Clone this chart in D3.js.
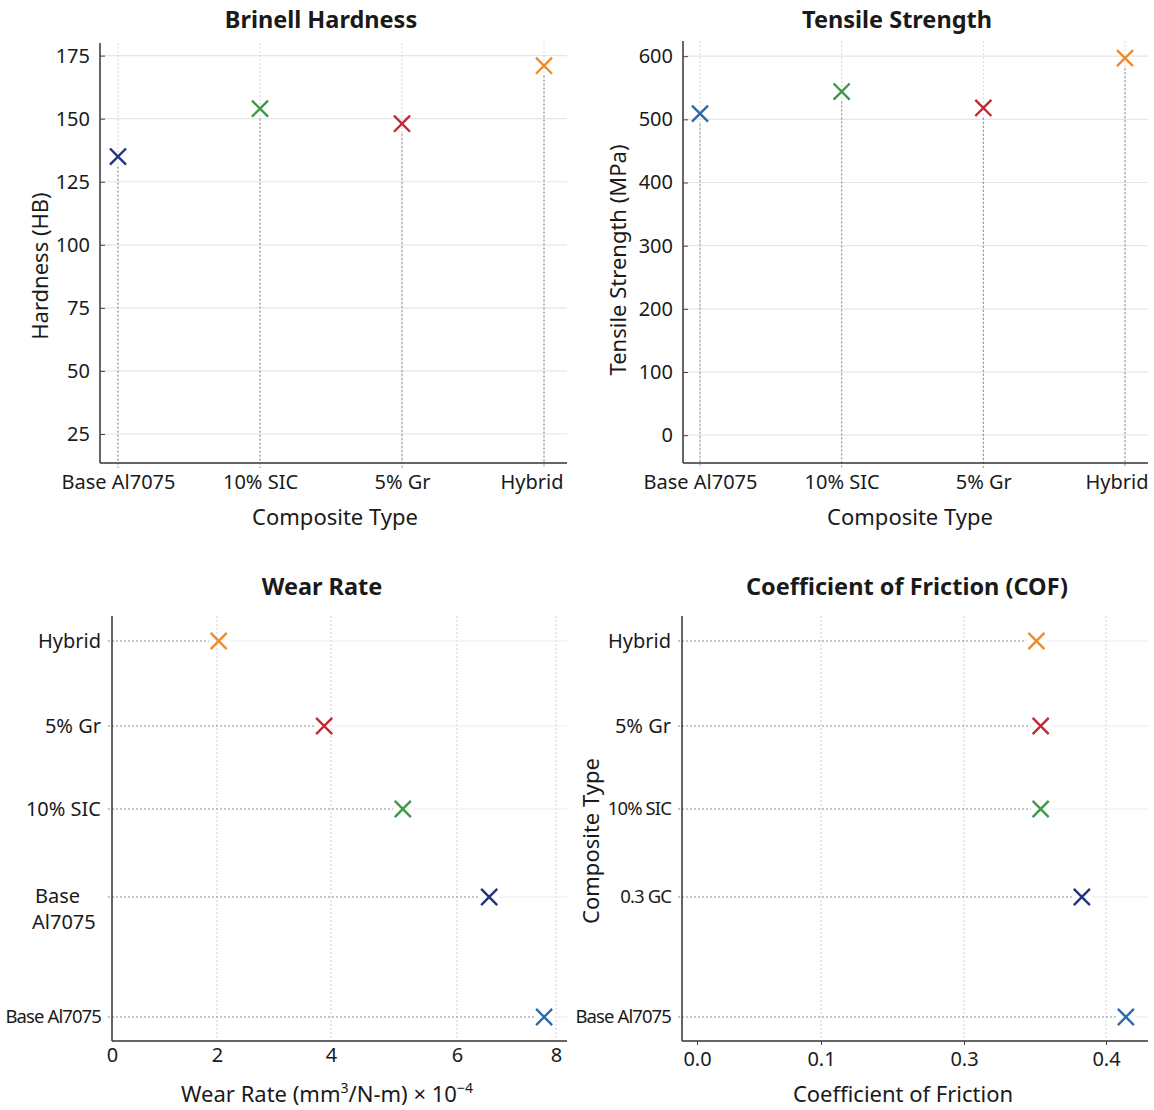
<!DOCTYPE html>
<html>
  <head>
    <meta charset="utf-8" />
    <title>Composite properties</title>
    <style>
      body { margin: 0; background: #fff; }
      text { font-family: "Noto Sans", "DejaVu Sans", sans-serif; fill: #1a1a1a; }
      .title { font-size: 23.5px; font-weight: bold; }
      .tick-label { font-size: 20px; }
      .axis-title { font-size: 22px; }
    </style>
  </head>
  <body>
    <svg id="chart" width="1154" height="1110"></svg>

    <script src="https://d3js.org/d3.v7.min.js"></script>
    <script>
      // ---- data ----
      const compositeTypes = ["Base Al7075", "10% SIC", "5% Gr", "Hybrid"];
      const hardness = [135, 154, 148, 171];
      const tensile = [509, 544, 518, 597];
      const hardnessTicks = [25, 50, 75, 100, 125, 150, 175];
      const tensileTicks = [0, 100, 200, 300, 400, 500, 600];

      const wearRows = ["Hybrid", "5% Gr", "10% SIC", "Base Al7075", "Base Al7075"];
      const wearRate = [2.03, 3.88, 5.14, 6.65, 7.76];
      const wearTicks = [0, 2, 4, 6, 8];

      const cofRows = ["Hybrid", "5% Gr", "10% SIC", "0.3 GC", "Base Al7075"];
      const cof = [0.351, 0.354, 0.354, 0.383, 0.414];
      const cofTicks = [0.0, 0.1, 0.3, 0.4];

      // ---- colours ----
      const navy = "#1f3480", green = "#3a9a46", red = "#c02a35",
            orange = "#f08a2c", steel = "#2f6aa8";
      const colsTop = [navy, green, red, orange];
      const colsTensile = [steel, green, red, orange];
      const colsRows = [orange, red, green, navy, steel];

      // uneven axis spacing of the original, used as scale range stops
      const rowY = [641, 726, 809, 897, 1017];
      const wearStops = [112, 217, 331, 457, 556];
      const cofStops = [697, 821, 964, 1106];

      const svg = d3.select("#chart");
      const marker = d3.symbol(d3.symbolX, 170);

      function frame(g, p) {
        g.append("line").attr("x1", p.left).attr("x2", p.left)
          .attr("y1", p.top).attr("y2", p.bottom)
          .attr("stroke", "#333").attr("stroke-width", 1.5);
        g.append("line").attr("x1", p.left).attr("x2", p.right)
          .attr("y1", p.bottom).attr("y2", p.bottom)
          .attr("stroke", "#333").attr("stroke-width", 1.5);
        g.append("text").attr("class", "title")
          .attr("x", p.titleX).attr("y", p.titleY)
          .attr("text-anchor", "middle").text(p.title);
      }

      function styleAxis(a) {
        a.attr("font-size", null).attr("font-family", null);
        a.select(".domain").remove();
        a.selectAll(".tick line").attr("stroke", "#444");
        a.selectAll(".tick text").attr("class", "tick-label");
      }

      // vertical category panels (top row)
      function categoryPanel(p) {
        const g = svg.append("g");
        const x = d3.scalePoint().domain(p.cats).range(p.xRange);
        const y = d3.scaleLinear().domain(p.yDomain).range([p.bottom, p.top]);

        g.append("g").selectAll("line").data(p.ticks).join("line")
          .attr("x1", p.left).attr("x2", p.right)
          .attr("y1", d => y(d)).attr("y2", d => y(d))
          .attr("stroke", "#e6e6e6").attr("stroke-width", 1.2);

        g.append("g").selectAll("line").data(p.cats).join("line")
          .attr("x1", d => x(d)).attr("x2", d => x(d))
          .attr("y1", p.top).attr("y2", p.bottom)
          .attr("stroke", "#d8d8d8").attr("stroke-dasharray", "2,2");

        g.append("g").selectAll("line").data(p.values).join("line")
          .attr("x1", (d, i) => x(p.cats[i])).attr("x2", (d, i) => x(p.cats[i]))
          .attr("y1", d => y(d) + 10).attr("y2", p.bottom + 5)
          .attr("stroke", "#8c8c8c").attr("stroke-dasharray", "2,2");

        frame(g, p);

        const ya = g.append("g").attr("transform", `translate(${p.left},0)`)
          .call(d3.axisLeft(y).tickValues(p.ticks).tickSize(-5).tickPadding(10));
        styleAxis(ya);

        const xa = g.append("g").attr("transform", `translate(0,${p.bottom})`)
          .call(d3.axisBottom(x).tickSize(0).tickPadding(12));
        styleAxis(xa);
        xa.selectAll(".tick text")
          .filter(d => d === p.cats[p.cats.length - 1])
          .attr("text-anchor", "end").attr("x", p.lastShift);

        g.append("text").attr("class", "axis-title")
          .attr("x", p.xLabelX).attr("y", p.bottom + 62)
          .attr("text-anchor", "middle").text(p.xLabel);

        g.append("text").attr("class", "axis-title")
          .attr("transform", `translate(${p.yLabelX},${p.yLabelY}) rotate(-90)`)
          .attr("dy", "0.35em").attr("text-anchor", "middle").text(p.yLabel);

        g.append("g").selectAll("path").data(p.values).join("path")
          .attr("d", marker)
          .attr("transform", (d, i) => `translate(${x(p.cats[i])},${y(d)})`)
          .attr("fill", "none").attr("stroke", (d, i) => p.colors[i])
          .attr("stroke-width", 2.4);
      }

      // horizontal row panels (bottom row)
      function rowPanel(p) {
        const g = svg.append("g");
        const x = d3.scaleLinear().domain(p.ticks).range(p.stops);
        const y = d3.scaleLinear().domain(d3.range(p.rows.length)).range(rowY);
        const idx = d3.range(p.rows.length);

        g.append("g").selectAll("line").data(p.ticks.slice(1)).join("line")
          .attr("x1", d => x(d)).attr("x2", d => x(d))
          .attr("y1", p.top).attr("y2", p.bottom)
          .attr("stroke", "#d0d0d0").attr("stroke-dasharray", "2,2");

        g.append("g").selectAll("line").data(idx).join("line")
          .attr("x1", d => x(p.values[d]) + 10).attr("x2", p.right)
          .attr("y1", d => y(d)).attr("y2", d => y(d))
          .attr("stroke", "#ececec").attr("stroke-width", 1.2);

        g.append("g").selectAll("line").data(idx).join("line")
          .attr("x1", p.left - 4).attr("x2", d => x(p.values[d]) - 10)
          .attr("y1", d => y(d)).attr("y2", d => y(d))
          .attr("stroke", "#8c8c8c").attr("stroke-dasharray", "2,2");

        frame(g, p);

        const ya = g.append("g").attr("transform", `translate(${p.left},0)`)
          .call(d3.axisLeft(y).tickValues(idx).tickFormat(i => p.rows[i])
            .tickSize(0).tickPadding(11));
        styleAxis(ya);
        ya.selectAll(".tick text")
          .filter(i => p.condensed.includes(i))
          .style("font-size", "18.5px").style("letter-spacing", "-0.9px");
        ya.selectAll(".tick text")
          .filter(i => p.wrapped.includes(i))
          .each(function (i) {
            const t = d3.select(this).text(null).attr("text-anchor", "start")
              .attr("dy", null);
            const parts = p.rows[i].split(" ");
            t.append("tspan").attr("x", -77).attr("y", 5).text(parts[0]);
            t.append("tspan").attr("x", -80).attr("y", 31).text(parts[1]);
          });

        const xa = g.append("g").attr("transform", `translate(0,${p.bottom})`)
          .call(d3.axisBottom(x).tickValues(p.ticks).tickFormat(p.fmt)
            .tickSize(p.tickLen).tickPadding(7));
        styleAxis(xa);

        const xt = g.append("text").attr("class", "axis-title")
          .attr("x", p.xLabelX).attr("y", p.bottom + 61)
          .attr("text-anchor", "middle");
        p.xLabel(xt);

        if (p.yLabel) {
          g.append("text").attr("class", "axis-title")
            .attr("transform", `translate(${p.yLabelX},${p.yLabelY}) rotate(-90)`)
            .attr("dy", "0.35em").attr("text-anchor", "middle").text(p.yLabel);
        }

        g.append("g").selectAll("path").data(idx).join("path")
          .attr("d", marker)
          .attr("transform", d => `translate(${x(p.values[d])},${y(d)})`)
          .attr("fill", "none").attr("stroke", d => p.colors[d])
          .attr("stroke-width", 2.4);
      }

      categoryPanel({
        title: "Brinell Hardness", titleX: 321, titleY: 28,
        left: 100, right: 567, top: 43, bottom: 463,
        cats: compositeTypes, values: hardness, colors: colsTop,
        xRange: [118, 544], yDomain: [13.5, 180], ticks: hardnessTicks,
        lastShift: 19,
        xLabel: "Composite Type", xLabelX: 335,
        yLabel: "Hardness (HB)", yLabelX: 40, yLabelY: 266
      });

      categoryPanel({
        title: "Tensile Strength", titleX: 897, titleY: 28,
        left: 683, right: 1148, top: 41, bottom: 463,
        cats: compositeTypes, values: tensile, colors: colsTensile,
        xRange: [700, 1125], yDomain: [-44, 624], ticks: tensileTicks,
        lastShift: 23,
        xLabel: "Composite Type", xLabelX: 910,
        yLabel: "Tensile Strength (MPa)", yLabelX: 618, yLabelY: 260
      });

      rowPanel({
        title: "Wear Rate", titleX: 322, titleY: 595,
        left: 112, right: 567, top: 616, bottom: 1041,
        rows: wearRows, values: wearRate, colors: colsRows,
        ticks: wearTicks, stops: wearStops, fmt: d3.format("d"), tickLen: 0,
        condensed: [4], wrapped: [3],
        xLabelX: 327,
        xLabel: t => {
          t.append("tspan").text("Wear Rate (mm");
          t.append("tspan").attr("baseline-shift", "super").style("font-size", "14px").text("3");
          t.append("tspan").text("/N-m) \u00d7 10");
          t.append("tspan").attr("baseline-shift", "super").style("font-size", "14px").text("\u22124");
        }
      });

      rowPanel({
        title: "Coefficient of Friction (COF)", titleX: 907, titleY: 595,
        left: 682, right: 1148, top: 616, bottom: 1041,
        rows: cofRows, values: cof, colors: colsRows,
        ticks: cofTicks, stops: cofStops, fmt: d3.format(".1f"), tickLen: 4,
        condensed: [2, 3, 4], wrapped: [],
        xLabelX: 903,
        xLabel: t => t.text("Coefficient of Friction"),
        yLabel: "Composite Type", yLabelX: 591, yLabelY: 841
      });
    </script>
  </body>
</html>
